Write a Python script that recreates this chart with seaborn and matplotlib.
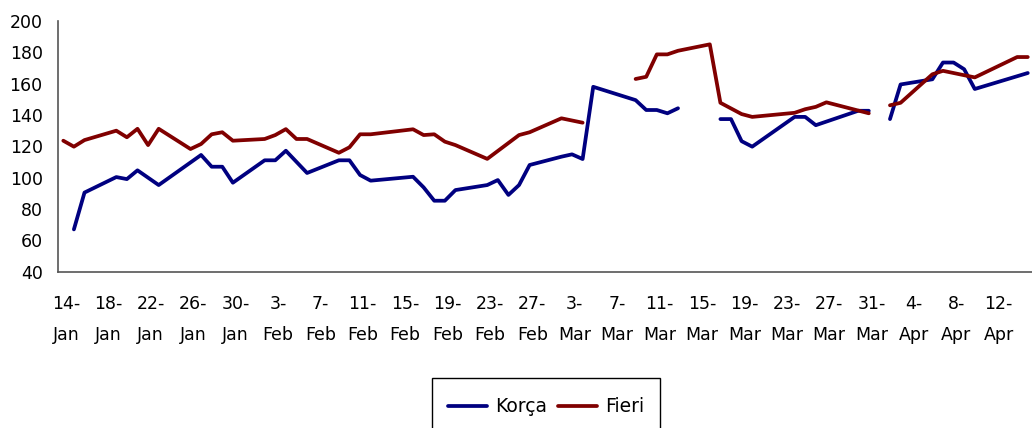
import numpy as np
import pandas as pd
import matplotlib
matplotlib.use("Agg")
import matplotlib.pyplot as plt
from matplotlib.patches import Rectangle
import seaborn as sns

nan = np.nan

# Korça series (gaps are NaN)
korca_dates = ["01-15", "01-16", "01-19", "01-20", "01-21", "01-23", "01-27", "01-28",
               "01-29", "01-30", "02-02", "02-03", "02-04", "02-06", "02-09", "02-10",
               "02-11", "02-12", "02-16", "02-17", "02-18", "02-19", "02-20", "02-23",
               "02-24", "02-25", "02-26", "02-27", "03-02", "03-03", "03-04", "03-05",
               "03-09", "03-10", "03-11", "03-12", "03-13", "03-16", "03-17", "03-18",
               "03-19", "03-20", "03-24", "03-25", "03-26", "03-30", "03-31", "04-01",
               "04-02", "04-03", "04-06", "04-07", "04-08", "04-09", "04-10", "04-15"]
korca_values = [67.0, 90.5, 100.4, 99.1, 104.7, 95.3, 114.5, 107.0,
                107.0, 96.8, 111.1, 111.1, 117.2, 103.0, 111.1, 111.1,
                101.7, 98.1, 100.6, 93.8, 85.3, 85.3, 92.1, 95.3,
                98.5, 89.0, 95.3, 108.1, 113.4, 114.9, 111.9, 158.0,
                149.5, 143.2, 143.2, 141.1, 144.3, nan, 137.4, 137.4,
                123.3, 119.8, 138.8, 138.8, 133.5, 142.7, 142.7, nan,
                137.4, 159.5, 162.8, 173.5, 173.5, 169.2, 156.6, 166.8]

# Fieri series
fieri_dates = ["01-14", "01-15", "01-16", "01-19", "01-20", "01-21", "01-22", "01-23",
               "01-26", "01-27", "01-28", "01-29", "01-30", "02-02", "02-03", "02-04",
               "02-05", "02-06", "02-09", "02-10", "02-11", "02-12", "02-16", "02-17",
               "02-18", "02-19", "02-20", "02-23", "02-26", "02-27", "03-02", "03-04",
               "03-05", "03-09", "03-10", "03-11", "03-12", "03-13", "03-16", "03-17",
               "03-19", "03-20", "03-24", "03-25", "03-26", "03-27", "03-31", "04-01",
               "04-02", "04-03", "04-06", "04-07", "04-10", "04-14", "04-15"]
fieri_values = [123.6, 119.8, 124.0, 130.0, 125.8, 131.2, 120.8, 131.2,
                118.3, 121.5, 127.7, 129.0, 123.6, 124.7, 127.2, 131.0,
                124.7, 124.7, 115.9, 119.4, 127.7, 127.7, 130.9, 127.2,
                127.7, 123.0, 120.8, 112.0, 127.2, 129.0, 137.9, 135.1,
                nan, 163.0, 164.4, 178.7, 178.7, 181.0, 185.1, 147.8,
                140.6, 138.8, 141.4, 143.7, 145.2, 148.1, 141.1, nan,
                146.2, 147.8, 166.0, 168.2, 164.0, 177.0, 177.0]

tick_dates = ["01-14", "01-18", "01-22", "01-26", "01-30", "02-03", "02-07", "02-11",
              "02-15", "02-19", "02-23", "02-27", "03-03", "03-07", "03-11", "03-15",
              "03-19", "03-23", "03-27", "03-31", "04-04", "04-08", "04-12"]
tick_labels = ["14-\nJan", "18-\nJan", "22-\nJan", "26-\nJan", "30-\nJan", "3-\nFeb",
               "7-\nFeb", "11-\nFeb", "15-\nFeb", "19-\nFeb", "23-\nFeb", "27-\nFeb",
               "3-\nMar", "7-\nMar", "11-\nMar", "15-\nMar", "19-\nMar", "23-\nMar",
               "27-\nMar", "31-\nMar", "4-\nApr", "8-\nApr", "12-\nApr"]

start = pd.Timestamp("2009-01-14")


def to_day(dates):
    return [(pd.Timestamp("2009-" + d) - start).days for d in dates]


def build(name, dates, values):
    d = pd.DataFrame({"day": to_day(dates), "value": values})
    d["segment"] = name + d["value"].isna().cumsum().astype(str)
    d["city"] = name
    return d.dropna()


df = pd.concat([build("Korça", korca_dates, korca_values),
                build("Fieri", fieri_dates, fieri_values)], ignore_index=True)

sns.set_style("white")
plt.rcParams["font.family"] = ["DejaVu Sans"]
plt.rcParams["text.color"] = "black"
plt.rcParams["xtick.color"] = "black"
plt.rcParams["ytick.color"] = "black"

W, H = 1032, 428
fig = plt.figure(figsize=(W / 100, H / 100), dpi=100)
ax = fig.add_axes([58 / W, (H - 271.7) / H, (W - 58) / W, (271.7 - 21) / H])

sns.lineplot(data=df, x="day", y="value", hue="city", units="segment",
             estimator=None, sort=False, palette={"Korça": "#000080", "Fieri": "#800000"},
             linewidth=2.7, ax=ax, legend=True)

ax.set_xlim(-0.5, 91.4)
ax.set_ylim(40, 200)
ax.set_yticks(range(40, 201, 20))
ax.set_xlabel("")
ax.set_ylabel("")

tick_pos = to_day(tick_dates)
ax.set_xticks([p - 0.5 for p in tick_pos])
ax.set_xticklabels([])
ax.set_xticks([p + 0.25 for p in tick_pos], minor=True)
ax.set_xticklabels(tick_labels, minor=True, linespacing=1.9)
ax.tick_params(axis="x", which="major", direction="out", length=5, width=1, color="#555555")
ax.tick_params(axis="x", which="minor", length=0, pad=17, labelsize=12.5, labelcolor="black")
ax.tick_params(axis="y", direction="out", length=5, width=1, color="#555555",
               pad=6, labelsize=12.5, labelcolor="black")

for s in ["top", "right"]:
    ax.spines[s].set_visible(False)
for s in ["left", "bottom"]:
    ax.spines[s].set_color("#555555")
    ax.spines[s].set_linewidth(1.2)

handles, labels = ax.get_legend_handles_labels()
leg = ax.legend(handles, labels, loc="center", ncol=2, frameon=False,
                bbox_to_anchor=(546 / W, (H - 407) / H), bbox_transform=fig.transFigure,
                fontsize=13.5, handlelength=2.1, handletextpad=0.4, columnspacing=0.6)
for t in leg.get_texts():
    t.set_color("black")
fig.patches.append(Rectangle((432 / W, (H - 440) / H), 228 / W, 62 / H,
                             transform=fig.transFigure, fill=False,
                             edgecolor="black", linewidth=1))

fig.savefig("out.png", dpi=100)
